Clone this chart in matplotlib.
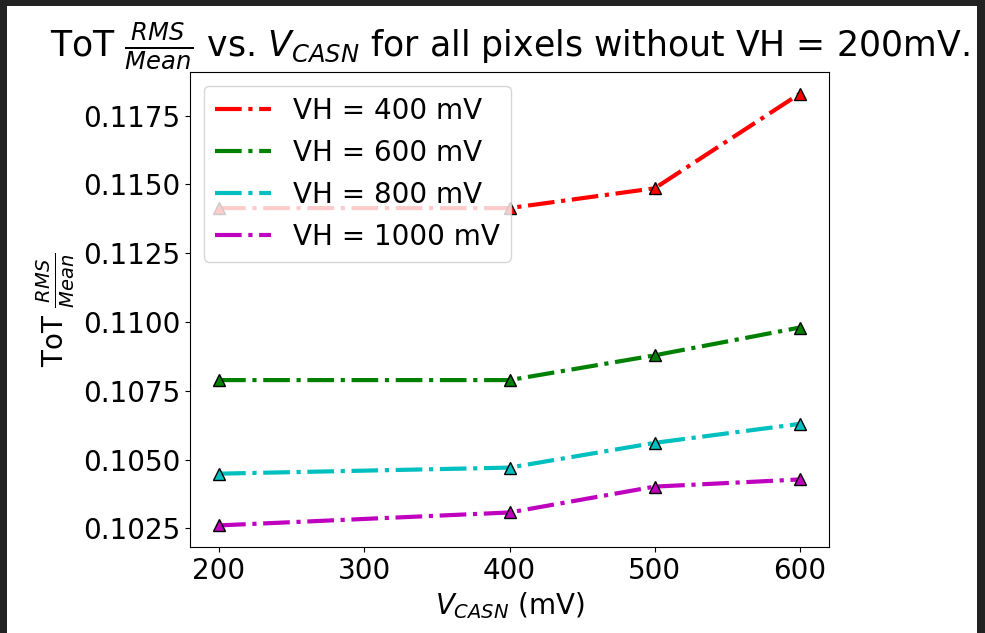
import matplotlib
matplotlib.use("Agg")
import matplotlib.pyplot as plt
from matplotlib.patches import Rectangle

vcasn = [200, 400, 500, 600]
vh_labels = ["VH = 400 mV", "VH = 600 mV", "VH = 800 mV", "VH = 1000 mV"]
tot_400 = [0.11414, 0.11414, 0.11486, 0.11830]
tot_600 = [0.10789, 0.10789, 0.10879, 0.10980]
tot_800 = [0.10449, 0.10471, 0.10561, 0.10630]
tot_1000 = [0.10261, 0.10308, 0.10402, 0.10428]
series = [tot_400, tot_600, tot_800, tot_1000]
colors = ["r", "g", "c", "m"]

plt.rcParams["font.size"] = 20

fig = plt.figure(figsize=(9.85, 6.33), dpi=100, facecolor="#222222")
fig.patches.append(Rectangle((7/985, 0), (977-7)/985, (633-6)/633,
                             transform=fig.transFigure, facecolor="white",
                             edgecolor="none", zorder=-10))
ax = fig.add_axes([190/985, (633-547)/633, (829-190)/985, (547-72)/633])

for vals, c, lab in zip(series, colors, vh_labels):
    ax.plot(vcasn, vals, linestyle="-.", color=c, linewidth=3, label=lab)
    ax.plot(vcasn, vals, linestyle="none", marker="^", markersize=9,
            markeredgecolor="black", markerfacecolor=c)

ax.set_yticks([0.1025, 0.1050, 0.1075, 0.1100, 0.1125, 0.1150, 0.1175])
ax.set_xticks([200, 300, 400, 500, 600])
ax.tick_params(labelsize=20)
ax.set_xlabel(r"$V_{CASN}$ (mV)", fontsize=20)
ax.set_ylabel(r"ToT $\frac{RMS}{Mean}$", fontsize=20)
ax.set_title(r"ToT $\frac{RMS}{Mean}$ vs. $V_{CASN}$ for all pixels without VH = 200mV.",
             fontsize=25)
ax.legend(fontsize=20, loc="upper left")

fig.savefig("out.png", dpi=100, facecolor=fig.get_facecolor())
